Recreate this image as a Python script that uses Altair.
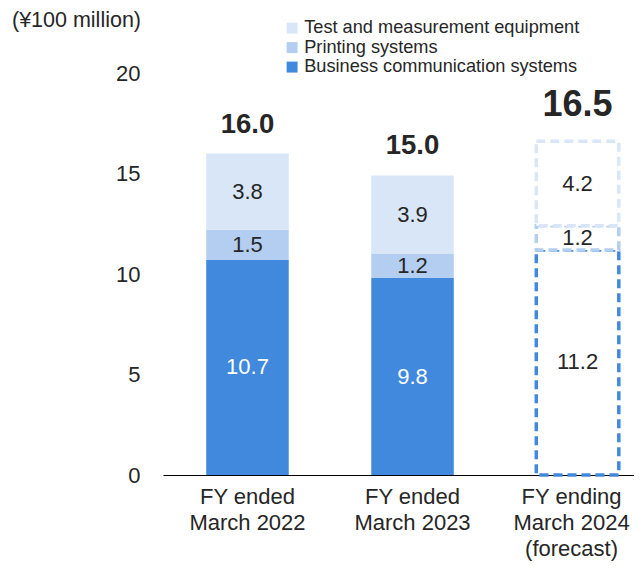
import altair as alt
import pandas as pd

# ---- data ----
categories = ["FY ended\nMarch 2022", "FY ended\nMarch 2023", "FY ending\nMarch 2024\n(forecast)"]
is_forecast = [False, False, True]
business = [10.7, 9.8, 11.2]
printing = [1.5, 1.2, 1.2]
test_meas = [3.8, 3.9, 4.2]
totals = [16.0, 15.0, 16.5]
total_labels = ["16.0", "15.0", "16.5"]
segments = ["Business communication systems", "Printing systems", "Test and measurement equipment"]
legend_order = ["Test and measurement equipment", "Printing systems", "Business communication systems"]
colors = {"Test and measurement equipment": "#D9E6F7",
          "Printing systems": "#B3CEF0",
          "Business communication systems": "#4189DD"}

FONT = "Liberation Sans"
TXT = "#262626"

rows = []
for i, c in enumerate(categories):
    for k, (seg, vals) in enumerate(zip(segments, [business, printing, test_meas])):
        rows.append({"cat": c, "seg": seg, "value": vals[i], "ord": k,
                     "forecast": is_forecast[i], "label": f"{vals[i]:.1f}"})
df = pd.DataFrame(rows)
tot = pd.DataFrame({"cat": categories, "total": totals, "label": total_labels,
                    "forecast": is_forecast})

x_scale = alt.Scale(domain=categories, paddingInner=0.5, paddingOuter=0.177, align=0.74)
y_scale = alt.Scale(domain=[0, 20], nice=False)
col_scale = alt.Scale(domain=legend_order, range=[colors[s] for s in legend_order])

x_enc = alt.X("cat:N", scale=x_scale, sort=categories,
              axis=alt.Axis(title=None, labelAngle=0, ticks=False, domain=True,
                            domainColor="#000000", domainWidth=1,
                            labelExpr="split(datum.label, '\\n')",
                            labelFontSize=22, labelColor=TXT, labelFont=FONT,
                            labelPadding=11, labelLineHeight=26, labelBaseline="top",
                            labelOffset={"condition": {"test": "datum.index == 1", "value": -6},
                                         "value": 0}))
y_axis = alt.Axis(values=[0, 5, 10, 15, 20], grid=False, domain=False, ticks=False,
                  labelFontSize=22, labelColor=TXT, labelFont=FONT, labelPadding=23,
                  title="(¥100 million)", titleAngle=0, titleX=-87, titleY=-53,
                  titleAlign="center", titleBaseline="middle", titleFontSize=21.5,
                  titleFontWeight="normal", titleColor=TXT, titleFont=FONT)

base = alt.Chart(df)

solid = base.transform_filter("!datum.forecast").mark_bar().encode(
    x=x_enc,
    y=alt.Y("value:Q", stack="zero", scale=y_scale, axis=y_axis),
    color=alt.Color("seg:N", scale=col_scale, sort=legend_order,
                    legend=alt.Legend(title=None, orient="none", legendX=120, legendY=-54,
                                      symbolType="square", symbolSize=120,
                                      symbolStrokeWidth=0, labelFontSize=18.2,
                                      labelFont=FONT, labelColor=TXT, labelOffset=3,
                                      labelLimit=0, rowPadding=0.5)),
    order=alt.Order("ord:Q", sort="ascending"),
)

dashed = base.transform_filter("datum.forecast").mark_bar(
    fill="white", strokeWidth=3.5, strokeDash=[9, 5]).encode(
    x=alt.X("cat:N", scale=x_scale, sort=categories),
    y=alt.Y("value:Q", stack="zero", scale=y_scale),
    stroke=alt.Stroke("seg:N", scale=col_scale, legend=None),
    order=alt.Order("ord:Q", sort="ascending"),
)

vals = base.transform_stack(
    stack="value", groupby=["cat"], as_=["y0", "y1"], sort=[alt.SortField("ord", "ascending")]
).transform_calculate(
    mid="(datum.y0 + datum.y1) / 2",
    tc="(datum.ord == 0 && !datum.forecast) ? 'white' : '#262626'"
).mark_text(fontSize=22, font=FONT, baseline="middle").encode(
    x=alt.X("cat:N", scale=x_scale, sort=categories),
    y=alt.Y("mid:Q", scale=y_scale),
    text="label:N",
    color=alt.Color("tc:N", scale=None),
)

tot_base = alt.Chart(tot)
tot_act = tot_base.transform_filter("!datum.forecast").mark_text(
    fontSize=27.5, fontWeight="bold", font=FONT, baseline="bottom", dy=-14, color=TXT).encode(
    x=alt.X("cat:N", scale=x_scale, sort=categories),
    y=alt.Y("total:Q", scale=y_scale),
    text="label:N",
)
tot_fc = tot_base.transform_filter("datum.forecast").mark_text(
    fontSize=36, fontWeight="bold", font=FONT, baseline="bottom", dy=-19, color=TXT).encode(
    x=alt.X("cat:N", scale=x_scale, sort=categories),
    y=alt.Y("total:Q", scale=y_scale),
    text="label:N",
)

chart = alt.layer(solid, dashed, vals, tot_act, tot_fc).properties(
    width=471, height=402,
    autosize=alt.AutoSizeParams(type="none"),
    padding={"left": 155, "top": 65, "right": 0, "bottom": 86},
).configure_view(stroke=None).resolve_scale(color="independent")

chart.save("out.html", embed_options={"renderer": "svg", "actions": False})
